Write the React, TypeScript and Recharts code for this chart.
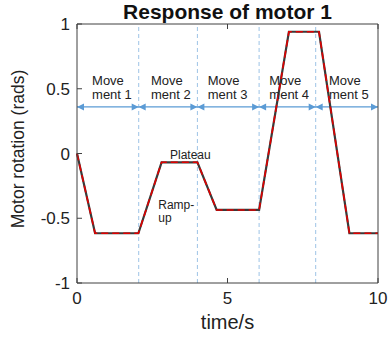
import { LineChart, Line, XAxis, YAxis, ReferenceLine, ReferenceDot } from "recharts";

// motor response breakpoints
const timeS = [0, 0.6, 2.04, 2.81, 4.0, 4.64, 6.05, 7.04, 8.04, 9.05, 10];
const rotation = [0, -0.616, -0.616, -0.068, -0.068, -0.436, -0.436, 0.94, 0.94, -0.616, -0.616];

const xTicks = [0, 5, 10];
const yTicks = [-1, -0.5, 0, 0.5, 1];

// movement boundaries
const bounds = [0, 2.05, 4.0, 6.05, 7.93, 10];
const moveNames = ["ment 1", "ment 2", "ment 3", "ment 4", "ment 5"];
const moveTextX = [0.5, 2.46, 4.34, 6.39, 8.37];
const arrowY = 0.36;
const moveTextY = 0.53;

const notes = [
  { t: 3.09, v: -0.04, lines: ["Plateau"] },
  { t: 2.7, v: -0.43, lines: ["Ramp-", "up"] },
];

const data = timeS.map((t, i) => ({ t, v: rotation[i] }));

const FONT = "'Liberation Sans', Arial, sans-serif";
const AXIS = "#404040";
const BLUE = "#5b9bd5";

function ArrowSeg(props: any) {
  const { x1, y1, x2, y2 } = props;
  if (x1 == null) return null;
  const h = 7;
  const w = 3.5;
  return (
    <g>
      <line x1={x1} y1={y1} x2={x2} y2={y2} stroke={BLUE} strokeWidth={1.3} />
      <polygon points={`${x1},${y1} ${x1 + h},${y1 - w} ${x1 + h},${y1 + w}`} fill={BLUE} />
      <polygon points={`${x2},${y2} ${x2 - h},${y2 - w} ${x2 - h},${y2 + w}`} fill={BLUE} />
    </g>
  );
}

function MultiText({ viewBox, lines, size }: any) {
  if (!viewBox) return null;
  const { x, y } = viewBox;
  return (
    <text x={x} y={y} fontFamily={FONT} fontSize={size} fill="#222">
      {lines.map((l: string, i: number) => (
        <tspan key={i} x={x} dy={i === 0 ? 0 : size * 1.1}>
          {l}
        </tspan>
      ))}
    </text>
  );
}

// x label plus the chart title, both centred over the plot
function XLabel({ viewBox }: any) {
  if (!viewBox) return null;
  const cx = viewBox.x + viewBox.width / 2;
  return (
    <g>
      <text x={cx} y={19} textAnchor="middle" fontFamily={FONT} fontSize={21} fontWeight="bold" fill="#111">
        Response of motor 1
      </text>
      <text x={cx} y={viewBox.y + 46} textAnchor="middle" fontFamily={FONT} fontSize={20} fill="#222">
        time/s
      </text>
    </g>
  );
}

function YLabel({ viewBox }: any) {
  if (!viewBox) return null;
  const cx = 19;
  const cy = 149;
  return (
    <text x={cx} y={cy} transform={`rotate(-90 ${cx} ${cy})`} textAnchor="middle" dominantBaseline="middle" fontFamily={FONT} fontSize={17.5} fill="#222">
      Motor rotation (rads)
    </text>
  );
}

const tickStyle = { fontSize: 17, fill: "#222", fontFamily: FONT };

export default function App() {
  return (
    <div style={{ position: "absolute", left: 0, top: 0, width: 391, height: 339, background: "#fff" }}>
      <LineChart width={391} height={339} data={data} margin={{ top: 23, right: 12, bottom: 0, left: 0 }}>
        <XAxis
          xAxisId="bottom"
          dataKey="t"
          type="number"
          domain={[0, 10]}
          ticks={xTicks}
          height={56}
          stroke={AXIS}
          tickSize={-5}
          tickMargin={14}
          tick={tickStyle}
          label={<XLabel />}
        />
        <XAxis
          xAxisId="top"
          orientation="top"
          dataKey="t"
          type="number"
          domain={[0, 10]}
          ticks={xTicks}
          height={1}
          stroke={AXIS}
          tickSize={-5}
          tickFormatter={() => ""}
        />
        <YAxis
          yAxisId="left"
          type="number"
          domain={[-1, 1]}
          ticks={yTicks}
          width={77}
          stroke={AXIS}
          tickSize={-5}
          tickMargin={12}
          tick={tickStyle}
          label={<YLabel />}
        />
        <YAxis
          yAxisId="right"
          orientation="right"
          type="number"
          domain={[-1, 1]}
          ticks={yTicks}
          width={1}
          stroke={AXIS}
          tickSize={-5}
          tickFormatter={() => ""}
        />
        {bounds.slice(1, -1).map((b) => (
          <ReferenceLine key={b} xAxisId="bottom" yAxisId="left" x={b} stroke="#9dc3e6" strokeDasharray="4 3" />
        ))}
        {moveNames.map((_, i) => (
          <ReferenceLine
            key={"a" + i}
            xAxisId="bottom"
            yAxisId="left"
            segment={[
              { x: bounds[i], y: arrowY },
              { x: bounds[i + 1], y: arrowY },
            ]}
            shape={ArrowSeg}
          />
        ))}
        {moveNames.map((m, i) => (
          <ReferenceDot
            key={"m" + i}
            xAxisId="bottom"
            yAxisId="left"
            x={moveTextX[i]}
            y={moveTextY}
            r={0}
            stroke="none"
            label={<MultiText lines={["Move", m]} size={13} />}
          />
        ))}
        {notes.map((n, i) => (
          <ReferenceDot
            key={"n" + i}
            xAxisId="bottom"
            yAxisId="left"
            x={n.t}
            y={n.v}
            r={0}
            stroke="none"
            label={<MultiText lines={n.lines} size={12} />}
          />
        ))}
        <Line xAxisId="bottom" yAxisId="left" type="linear" dataKey="v" stroke="#3a3a3a" strokeWidth={2.2} dot={false} isAnimationActive={false} />
        <Line
          xAxisId="bottom"
          yAxisId="left"
          type="linear"
          dataKey="v"
          stroke="#e00000"
          strokeWidth={1.6}
          strokeDasharray="7 4"
          dot={false}
          isAnimationActive={false}
        />
      </LineChart>
    </div>
  );
}
